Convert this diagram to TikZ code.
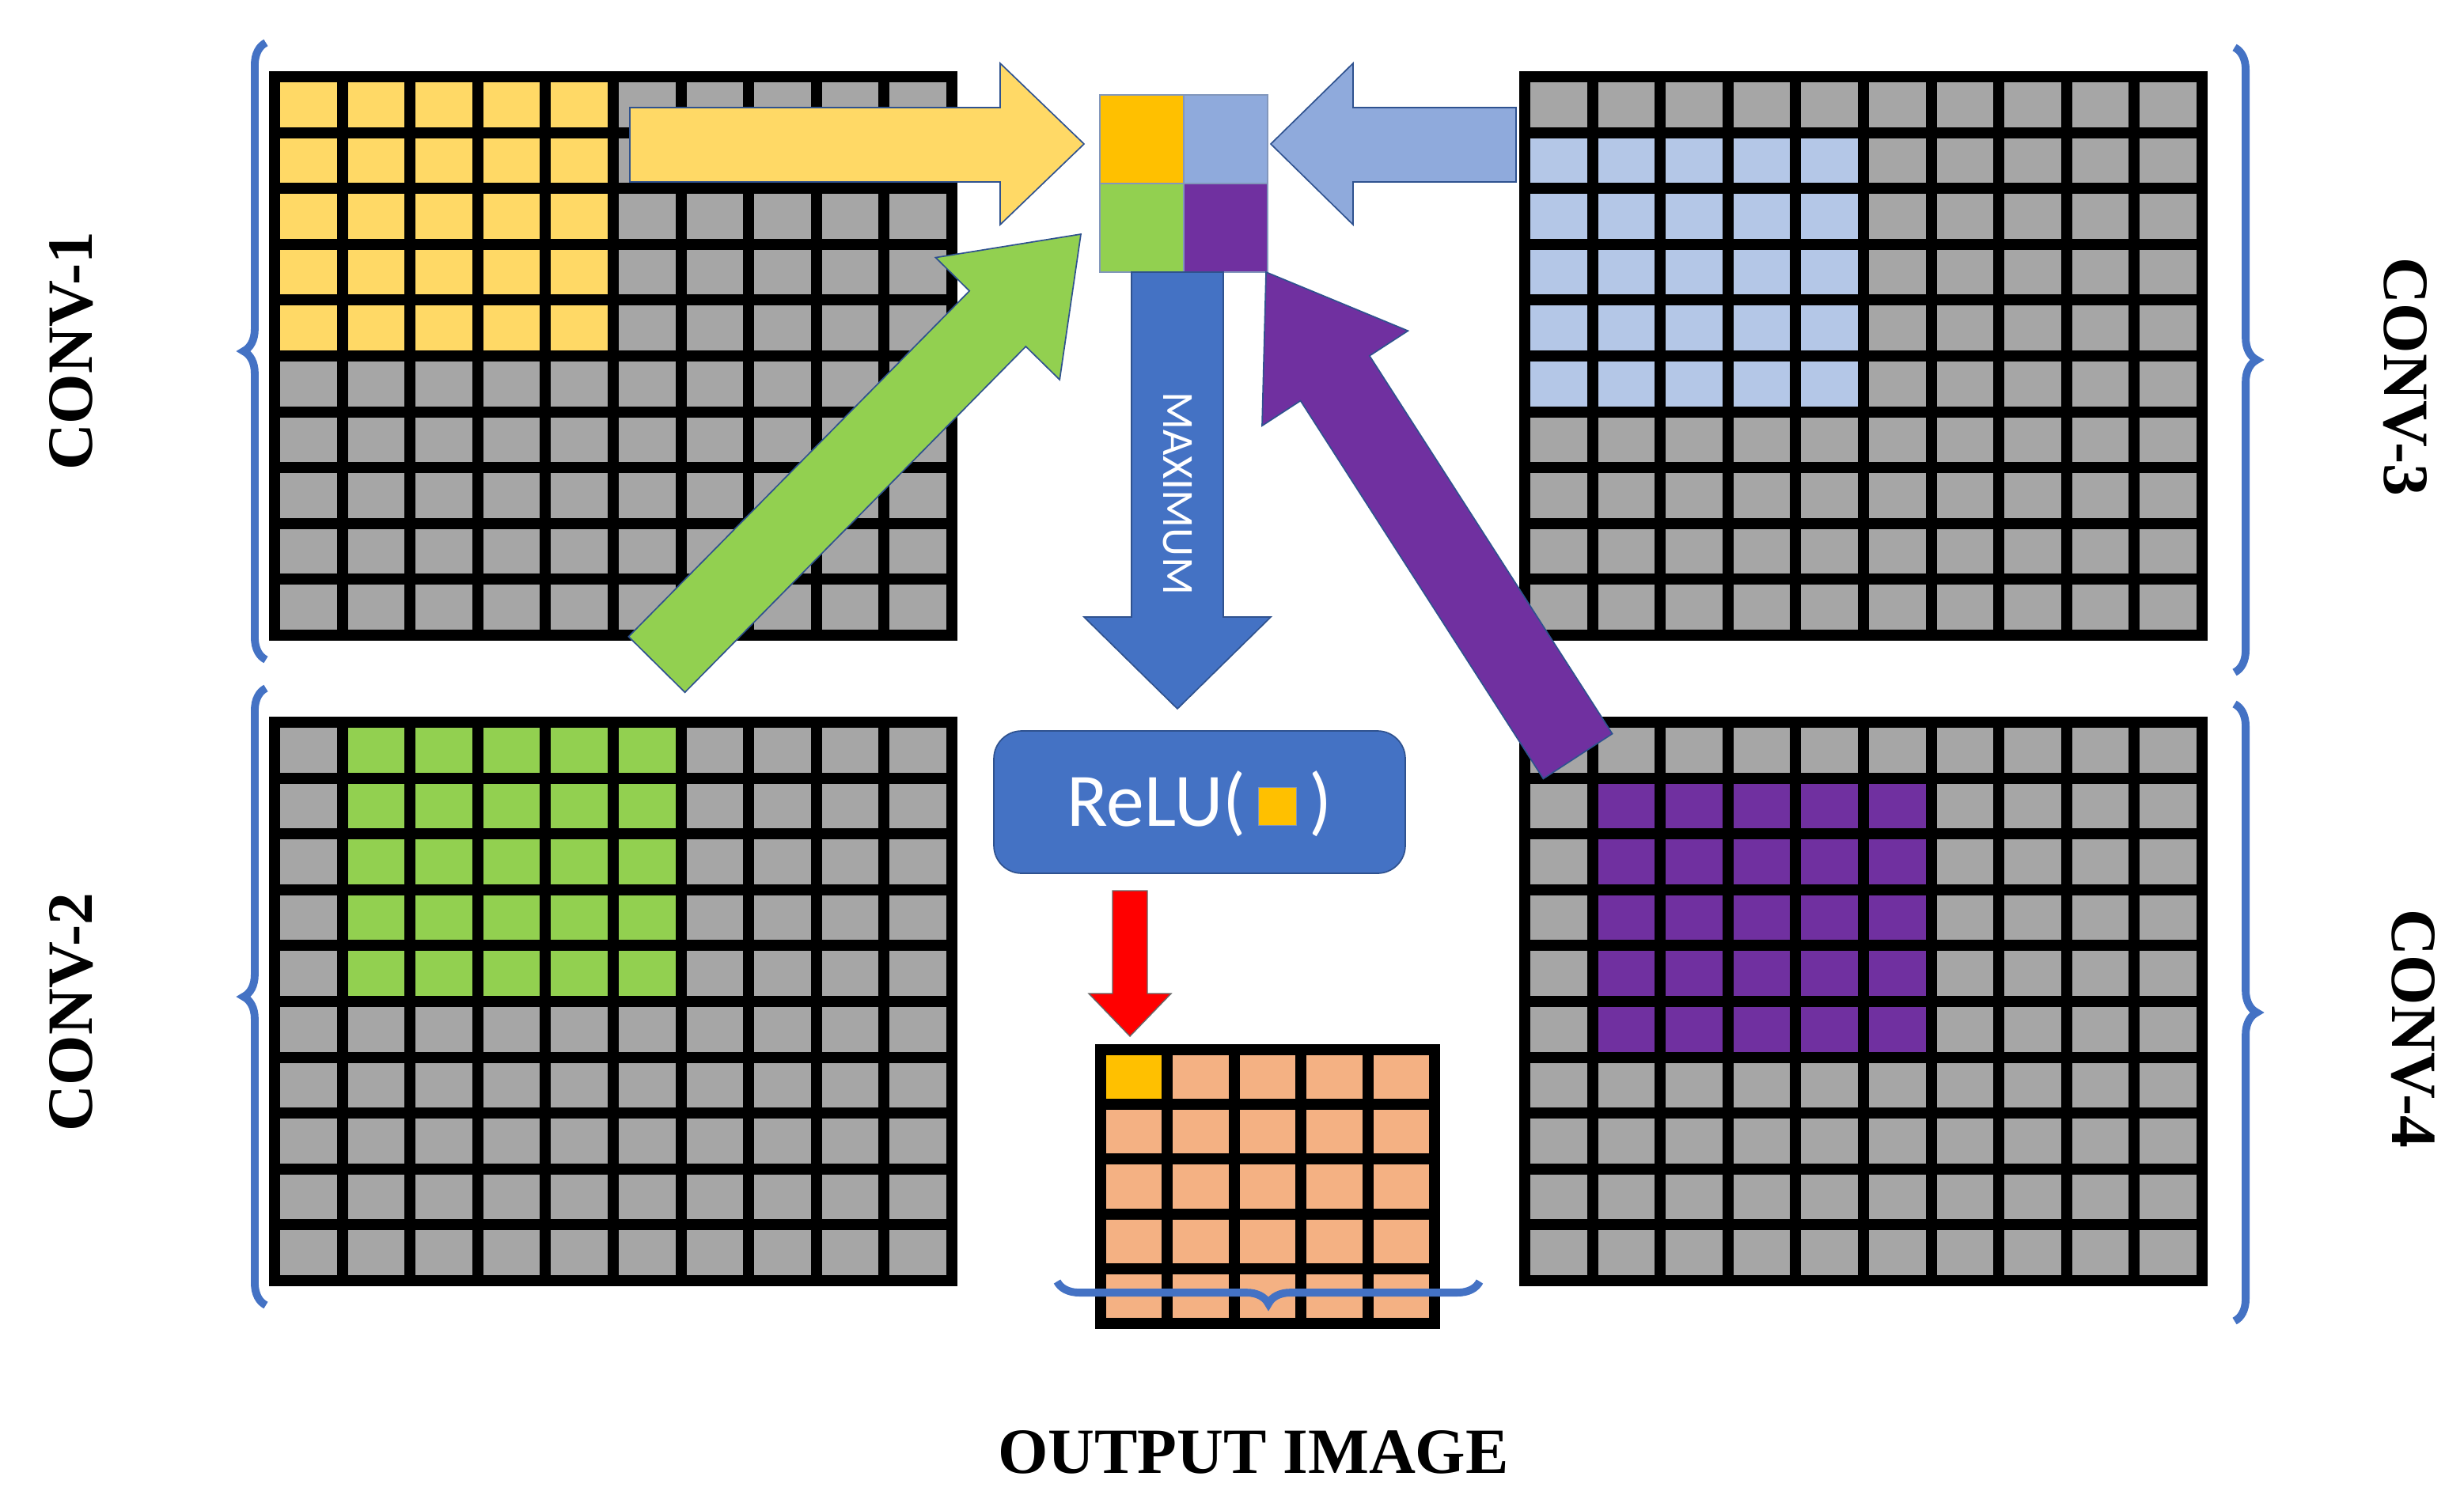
\documentclass[tikz,border=0pt]{standalone}
\usepackage{fontspec}
\setmainfont{Liberation Serif}
\newfontfamily\sansf{Carlito}
\usetikzlibrary{decorations.pathreplacing}
\definecolor{cgray}{HTML}{A6A6A6}
\definecolor{cyel}{HTML}{FFD966}
\definecolor{cgrn}{HTML}{92D050}
\definecolor{clbl}{HTML}{B4C7E7}
\definecolor{cpur}{HTML}{7030A0}
\definecolor{corg}{HTML}{FFC000}
\definecolor{csal}{HTML}{F4B183}
\definecolor{cblu}{HTML}{4472C4}
\definecolor{cmbl}{HTML}{8FAADC}
\definecolor{cedge}{HTML}{2F528F}
% #1 x0, #2 y0, #3 w, #4 h, #5 ncols, #6 nrows, #7 colour, #8 c0, #9 c1, then r0 r1 base
\newcommand\mygrid[9]{\def\gx{#1}\def\gy{#2}\def\gw{#3}\def\gh{#4}\def\gn{#5}\def\gm{#6}\def\gc{#7}\def\gca{#8}\def\gcb{#9}\mygridB}
\newcommand\mygridB[3]{%
  \fill[black] (\gx,\gy) rectangle ++(\gw,\gh);
  \pgfmathsetmacro\px{(\gw-7)/\gn}\pgfmathsetmacro\py{(\gh-7)/\gm}
  \foreach \i in {1,...,\gn}{\foreach \j in {1,...,\gm}{
    \pgfmathsetmacro\inside{(\i>=\gca)&&(\i<=\gcb)&&(\j>=#1)&&(\j<=#2)}
    \ifdim\inside pt>0.5pt\def\cc{\gc}\else\def\cc{#3}\fi
    \fill[\cc] ({\gx+7+(\i-1)*\px},{\gy+7+(\j-1)*\py}) rectangle ({\gx+\i*\px},{\gy+\j*\py});
  }}}
\tikzset{blk/.style={draw=cedge,line width=1.2pt},
  br/.style={draw=cblu,line width=7pt,decorate,decoration={brace,amplitude=20}},
  lab/.style={font=\bfseries\fontsize{58}{64}\selectfont}}
\begin{document}
\begin{tikzpicture}[x=0.05cm,y=-0.05cm]
\useasboundingbox (0,0) rectangle (1557,947);
\mygrid{170}{45}{435}{360}{10}{10}{cyel}{1}{5}{1}{5}{cgray}
\mygrid{170}{453}{435}{360}{10}{10}{cgrn}{2}{6}{1}{5}{cgray}
\mygrid{960}{45}{435}{360}{10}{10}{clbl}{1}{5}{2}{6}{cgray}
\mygrid{960}{453}{435}{360}{10}{10}{cpur}{2}{6}{2}{6}{cgray}
\mygrid{692}{660}{218}{180}{5}{5}{corg}{1}{1}{1}{1}{csal}
% center 2x2
\fill[corg] (695,60) rectangle (748,116);
\fill[cmbl] (748,60) rectangle (801,116);
\fill[cgrn] (695,116) rectangle (748,172);
\fill[cpur] (748,116) rectangle (801,172);
\draw[cedge!60,line width=1.5pt] (695,60) rectangle (801,172) (748,60)--(748,172) (695,116)--(801,116);
% arrows
\draw[blk,fill=cyel] (398,68)--(632,68)--(632,40)--(685,91)--(632,142)--(632,115)--(398,115)--cycle;
\draw[blk,fill=cmbl] (958,68)--(855,68)--(855,40)--(803,91)--(855,142)--(855,115)--(958,115)--cycle;
\draw[blk,fill=cgrn] (432.8,437.6)--(648.2,219)--(669.6,240)--(683,148)--(591.2,162.8)--(612.6,183.9)--(397.2,402.4)--cycle;
\draw[blk,fill=cpur] (1018.8,463.8)--(865.4,224.9)--(889.7,209.1)--(800,172)--(797.5,269.1)--(821.8,253.3)--(975.2,492.2)--cycle;
\draw[blk,fill=cblu] (715,172)--(773,172)--(773,390)--(803,390)--(744,448)--(685,390)--(715,390)--cycle;
\node[rotate=-90,text=white,font=\sansf\fontsize{40}{44}\selectfont] (mx) at (744,312) {MAXIMUM};
\node[draw=cedge,fill=cblu,rounded corners=25pt,minimum width=13cm,minimum height=4.5cm,line width=1.2pt] (relu) at (758,507) {};
\node[text=white,font=\sansf\fontsize{68}{72}\selectfont,anchor=base] (rtxt) at (758,522) {ReLU(\,\tikz\fill[corg,draw=cedge!60] (0,0) rectangle (1.2cm,1.2cm);\,)};
\draw[draw=black!60,fill=red,line width=1pt] (703,563)--(725,563)--(725,628)--(740,628)--(714,655)--(688,628)--(703,628)--cycle;
% braces
\draw[br] (168,417)--(168,27);
\draw[br] (168,825)--(168,435);
\draw[br] (1412,30)--(1412,425);
\draw[br] (1412,445)--(1412,835);
\draw[br] (935,810)--(668,810);
\node[lab,rotate=90] (c1) at (45,222) {CONV-1};
\node[lab,rotate=90] (c2) at (45,640) {CONV-2};
\node[lab,rotate=-90] (c3) at (1520,238) {CONV-3};
\node[lab,rotate=-90] (c4) at (1525,650) {CONV-4};
\node[lab] (oi) at (792,918) {OUTPUT IMAGE};
\end{tikzpicture}
\end{document}
